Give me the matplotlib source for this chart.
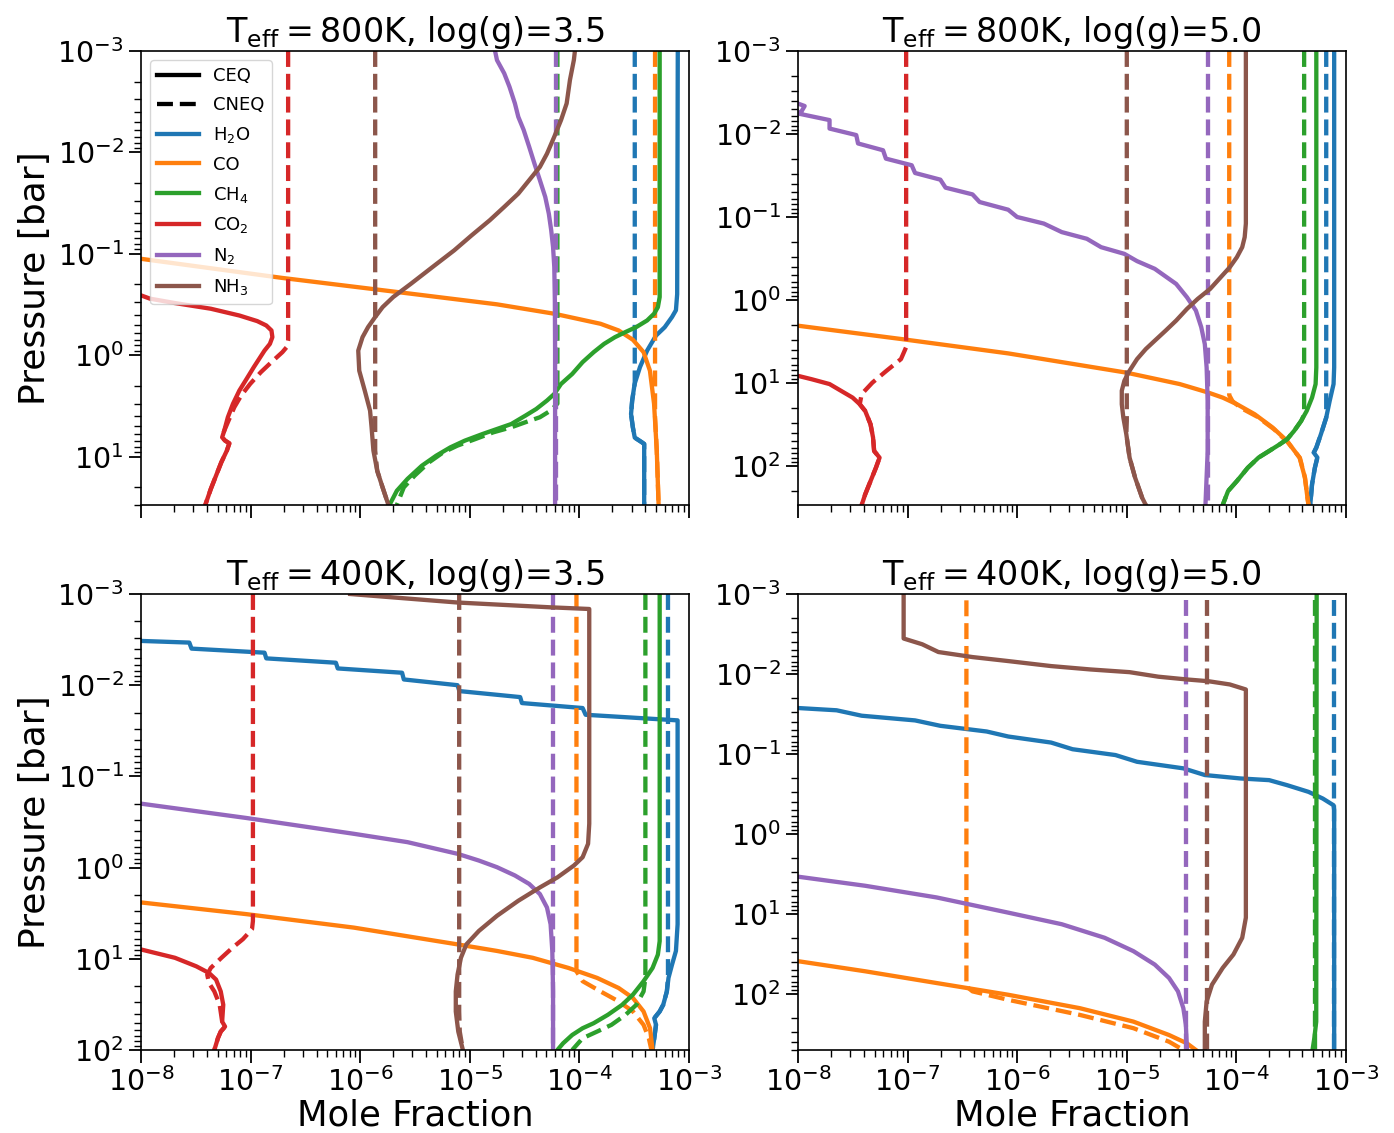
import matplotlib
matplotlib.use("Agg")
import matplotlib.pyplot as plt
from matplotlib.lines import Line2D

SPECIES = ["H2O", "CO", "CH4", "CO2", "N2", "NH3"]
LABELS = [r"H$_2$O", "CO", r"CH$_4$", r"CO$_2$", r"N$_2$", r"NH$_3$"]
COLORS = ["#1f77b4", "#ff7f0e", "#2ca02c", "#d62728", "#9467bd", "#8c564b"]

TITLES = [
    r"$\mathrm{T_{eff} = 800K}$, log(g)=3.5",
    r"$\mathrm{T_{eff} = 800K}$, log(g)=5.0",
    r"$\mathrm{T_{eff} = 400K}$, log(g)=3.5",
    r"$\mathrm{T_{eff} = 400K}$, log(g)=5.0",
]
P_BOTTOM = [30, 295, 100, 500]

# curves are (pressure [bar], mole fraction) pairs

# Teff 800K, log(g) 3.5
A_H2O_CEQ = [(1e-3, 7.9e-4), (0.25, 7.8e-4), (0.36, 7.6e-4), (0.42, 7.0e-4), (0.53, 6.0e-4), (0.64, 5.0e-4),
             (0.9, 4.15e-4), (1.31, 3.57e-4), (1.92, 3.19e-4), (2.8, 3.03e-4), (3.8, 2.96e-4), (5.1, 3.07e-4),
             (6.5, 3.2e-4), (7.2, 3.7e-4), (7.5, 3.9e-4), (30, 3.9e-4)]
A_H2O_CNEQ = [(1e-3, 3.2e-4), (1.9, 3.2e-4), (2.8, 3.03e-4), (3.8, 2.96e-4), (5.1, 3.07e-4), (6.5, 3.2e-4),
              (7.2, 3.7e-4), (7.5, 3.9e-4), (30, 3.9e-4)]
A_CO_CEQ = [(0.112, 1.0e-8), (0.173, 1.95e-7), (0.233, 1.85e-6), (0.315, 1.77e-5), (0.39, 5.9e-5), (0.49, 1.56e-4),
            (0.57, 2.28e-4), (0.705, 3.08e-4), (0.933, 3.85e-4), (1.42, 4.4e-4), (3.02, 4.8e-4), (8.7, 5.08e-4),
            (30, 5.28e-4)]
A_CO_CNEQ = [(1e-3, 4.9e-4), (4.0, 4.9e-4), (8.7, 5.08e-4), (30, 5.28e-4)]
A_CH4_CEQ = [(1e-3, 5.4e-4), (0.267, 5.4e-4), (0.336, 5.2e-4), (0.39, 4.8e-4), (0.454, 4.15e-4), (0.528, 3.3e-4),
             (0.59, 2.64e-4), (0.664, 2.11e-4), (0.773, 1.68e-4), (0.933, 1.35e-4), (1.17, 1.07e-4), (1.53, 8.6e-5),
             (1.92, 6.8e-5), (2.41, 5.9e-5), (2.8, 5.06e-5), (3.39, 4.04e-5), (3.94, 3.22e-5), (4.77, 2.39e-5),
             (5.34, 1.77e-5), (5.98, 1.31e-5), (6.96, 9.0e-6), (8.1, 6.65e-6), (9.8, 4.93e-6), (12.3, 3.65e-6),
             (16.6, 2.7e-6), (21.7, 2.16e-6), (30, 1.85e-6)]
A_CH4_CNEQ = [(1e-3, 6.3e-5), (3.0, 6.3e-5), (3.52, 5.46e-5), (4.09, 4.36e-5), (4.58, 3.22e-5), (5.14, 2.39e-5),
              (5.76, 1.64e-5), (6.7, 1.13e-5), (7.8, 7.7e-6), (9.1, 5.7e-6), (11.4, 4.24e-6), (15.4, 3.14e-6),
              (20.1, 2.5e-6), (30, 2.16e-6)]
A_CO2_CEQ = [(0.257, 1.0e-8), (0.277, 1.21e-8), (0.306, 2.04e-8), (0.348, 4.33e-8), (0.406, 7.9e-8),
             (0.461, 1.15e-7), (0.509, 1.39e-7), (0.57, 1.55e-7), (0.664, 1.58e-7), (0.773, 1.5e-7), (0.9, 1.34e-7),
             (1.31, 1.07e-7), (1.71, 9.2e-8), (2.23, 7.9e-8), (3.02, 6.9e-8), (4.09, 6.2e-8), (5.55, 5.75e-8),
             (6.46, 5.5e-8), (6.95, 5.85e-8), (7.4, 6.4e-8), (8.73, 6.07e-8), (11.4, 5.4e-8), (15.4, 4.84e-8),
             (20.9, 4.33e-8), (30, 3.86e-8)]
A_CO2_CNEQ = [(1e-3, 2.2e-7), (0.716, 2.2e-7), (0.834, 2.13e-7), (0.933, 1.95e-7), (1.17, 1.55e-7), (1.47, 1.24e-7),
              (1.92, 9.9e-8), (2.5, 8.2e-8), (3.26, 7.1e-8), (4.4, 6.3e-8), (5.55, 5.75e-8), (6.46, 5.5e-8),
              (6.95, 5.85e-8), (7.4, 6.4e-8), (8.73, 6.07e-8), (11.4, 5.4e-8), (15.4, 4.84e-8), (20.9, 4.33e-8),
              (30, 3.86e-8)]
A_N2_CEQ = [(1e-3, 1.7e-5), (1.23e-3, 1.77e-5), (1.66e-3, 2.06e-5), (2.25e-3, 2.3e-5), (3.29e-3, 2.58e-5),
            (4.46e-3, 2.77e-5), (6.0e-3, 3.1e-5), (8.8e-3, 3.48e-5), (0.0129, 3.89e-5), (0.0188, 4.36e-5),
            (0.0275, 4.88e-5), (0.0402, 5.26e-5), (0.0586, 5.53e-5), (0.0857, 5.75e-5), (0.135, 5.9e-5),
            (0.288, 5.97e-5), (0.9, 6.0e-5), (30, 6.0e-5)]
A_N2_CNEQ = [(1e-3, 6.1e-5), (30, 6.1e-5)]
A_NH3_CEQ = [(1e-3, 9.1e-5), (1.23e-3, 8.9e-5), (1.93e-3, 8.2e-5), (3.29e-3, 7.65e-5), (4.8e-3, 6.8e-5),
             (7.0e-3, 5.9e-5), (0.0103, 5.06e-5), (0.0139, 4.36e-5), (0.0188, 3.48e-5), (0.0255, 2.77e-5),
             (0.0345, 2.06e-5), (0.0467, 1.52e-5), (0.0657, 1.04e-5), (0.0925, 7.2e-6), (0.135, 4.57e-6),
             (0.197, 2.91e-6), (0.267, 2.0e-6), (0.336, 1.6e-6), (0.42, 1.37e-6), (0.528, 1.18e-6), (0.664, 1.05e-6),
             (0.9, 9.6e-7), (1.42, 9.8e-7), (2.23, 1.1e-6), (3.52, 1.23e-6), (5.14, 1.27e-6), (8.73, 1.32e-6),
             (13.8, 1.43e-6), (20.1, 1.6e-6), (30, 1.81e-6)]
A_NH3_CNEQ = [(1e-3, 1.37e-6), (8.73, 1.37e-6), (13.8, 1.43e-6), (20.1, 1.6e-6), (30, 1.81e-6)]

# Teff 800K, log(g) 5.0
B_H2O_CEQ = [(1e-3, 7.8e-4), (6.5, 7.8e-4), (10.3, 7.7e-4), (16.4, 7.1e-4), (26.1, 6.6e-4), (41.5, 5.9e-4),
             (60, 5.36e-4), (69, 5.08e-4), (79, 5.48e-4), (105, 5.2e-4), (166, 4.9e-4), (295, 4.72e-4)]
B_H2O_CNEQ = [(1e-3, 6.6e-4), (26.1, 6.6e-4), (41.5, 5.9e-4), (60, 5.36e-4), (69, 5.08e-4), (79, 5.48e-4),
              (105, 5.2e-4), (166, 4.9e-4), (295, 4.72e-4)]
B_CO_CEQ = [(2.04, 1.0e-8), (2.95, 8.7e-8), (4.4, 8.3e-7), (7.5, 9.9e-6), (10.3, 3.04e-5), (13, 5.5e-5),
            (15, 7.5e-5), (18, 1.01e-4), (23.8, 1.47e-4), (34.4, 2.14e-4), (49.9, 2.9e-4), (79.3, 3.77e-4),
            (138, 4.22e-4), (241, 4.45e-4), (295, 4.55e-4)]
B_CO_CNEQ = [(1e-3, 8.6e-5), (14, 8.6e-5), (16.5, 9.2e-5), (20, 1.1e-4), (25.5, 1.55e-4), (36, 2.2e-4),
             (52, 2.95e-4), (80, 3.8e-4), (138, 4.22e-4), (241, 4.45e-4), (295, 4.55e-4)]
B_CH4_CEQ = [(1e-3, 5.36e-4), (6.5, 5.36e-4), (10.3, 5.28e-4), (15, 4.9e-4), (21.7, 4.38e-4), (28.6, 3.9e-4),
             (37.8, 3.36e-4), (47.6, 2.9e-4), (54.7, 2.49e-4), (65.9, 1.99e-4), (79.3, 1.59e-4), (105, 1.27e-4),
             (152, 1.01e-4), (200, 8.4e-5), (295, 7.5e-5)]
B_CH4_CNEQ = [(1e-3, 4.15e-4), (24, 4.15e-4), (28.6, 3.9e-4), (37.8, 3.36e-4), (47.6, 2.9e-4), (54.7, 2.49e-4),
              (65.9, 1.99e-4), (79.3, 1.59e-4), (105, 1.27e-4), (152, 1.01e-4), (200, 8.4e-5), (295, 7.5e-5)]
B_CO2_CEQ = [(8.2, 1.0e-8), (9.0, 1.33e-8), (10.3, 1.94e-8), (15, 3.15e-8), (18, 3.66e-8), (21.7, 4.1e-8),
             (31.4, 4.59e-8), (45.5, 4.84e-8), (65.9, 4.95e-8), (79.3, 5.55e-8), (105, 5.14e-8), (152, 4.59e-8),
             (220, 4.1e-8), (295, 3.81e-8)]
B_CO2_CNEQ = [(1e-3, 9.7e-8), (3.7, 9.7e-8), (5.15, 8.7e-8), (7.1, 6.44e-8), (9.9, 4.77e-8), (13.6, 3.81e-8),
              (18, 3.66e-8), (21.7, 4.1e-8), (31.4, 4.59e-8), (45.5, 4.84e-8), (65.9, 4.95e-8), (79.3, 5.55e-8),
              (105, 5.14e-8), (152, 4.59e-8), (220, 4.1e-8), (295, 3.81e-8)]
B_N2_CEQ = [(4.3e-3, 1.0e-8), (4.6e-3, 1.15e-8), (5.3e-3, 1.08e-8), (5.66e-3, 1.0e-8), (6.8e-3, 1.94e-8),
            (8.6e-3, 1.94e-8), (0.0103, 3.4e-8), (0.013, 3.53e-8), (0.0157, 5.97e-8), (0.0198, 6.34e-8),
            (0.0238, 1.09e-7), (0.0295, 1.17e-7), (0.0355, 1.99e-7), (0.0443, 2.22e-7), (0.0534, 3.91e-7),
            (0.066, 4.54e-7), (0.0817, 8.28e-7), (0.1, 9.98e-7), (0.12, 1.75e-6), (0.152, 2.55e-6),
            (0.183, 4.32e-6), (0.231, 5.83e-6), (0.278, 9.5e-6), (0.34, 1.24e-5), (0.421, 1.8e-5), (0.64, 2.82e-5),
            (0.927, 3.54e-5), (1.34, 4.27e-5), (2.13, 4.78e-5), (3.4, 5.15e-5), (6.5, 5.35e-5), (16.4, 5.47e-5),
            (65.9, 5.47e-5), (295, 5.22e-5)]
B_N2_CNEQ = [(1e-3, 5.55e-5), (295, 5.55e-5)]
B_NH3_CEQ = [(1e-3, 1.22e-4), (0.12, 1.22e-4), (0.175, 1.19e-4), (0.231, 1.13e-4), (0.305, 1.01e-4),
             (0.403, 8.7e-5), (0.531, 7.2e-5), (0.735, 5.76e-5), (0.971, 4.43e-5), (1.28, 3.54e-5), (1.77, 2.82e-5),
             (2.34, 2.26e-5), (3.09, 1.8e-5), (3.9, 1.49e-5), (5.15, 1.24e-5), (7.1, 1.06e-5), (9.4, 9.5e-6),
             (12.4, 9.0e-6), (18, 9.0e-6), (26.1, 9.3e-6), (41.5, 9.9e-6), (79.3, 1.06e-5), (138, 1.19e-5),
             (241, 1.38e-5), (295, 1.49e-5)]
B_NH3_CNEQ = [(1e-3, 1.0e-5), (28.6, 1.0e-5), (41.5, 9.9e-6), (79.3, 1.06e-5), (138, 1.19e-5), (241, 1.38e-5),
              (295, 1.49e-5)]

# Teff 400K, log(g) 3.5
C_H2O_CEQ = [(3.27e-3, 1.0e-8), (3.41e-3, 2.76e-8), (3.97e-3, 2.89e-8), (4.4e-3, 1.34e-7), (5.08e-3, 1.39e-7),
             (5.67e-3, 6.0e-7), (6.55e-3, 6.24e-7), (7.3e-3, 2.41e-6), (8.65e-3, 2.5e-6), (0.01, 7.73e-6),
             (0.0116, 8.03e-6), (0.0135, 2.88e-5), (0.0157, 2.99e-5), (0.0178, 1.07e-4), (0.0211, 1.14e-4),
             (0.0243, 7.87e-4), (4.18, 7.87e-4), (8.2, 7.6e-4), (11.6, 7.0e-4), (16.2, 6.5e-4), (22.8, 6.28e-4),
             (31.9, 5.82e-4), (37.8, 5.4e-4), (44.8, 4.82e-4), (53, 5.0e-4), (74.3, 4.82e-4), (100, 4.65e-4)]
C_H2O_CNEQ = [(1e-3, 6.43e-4), (16.2, 6.43e-4), (22.8, 6.28e-4), (31.9, 5.82e-4), (37.8, 5.4e-4), (44.8, 4.82e-4),
              (53, 5.0e-4), (74.3, 4.82e-4), (100, 4.65e-4)]
C_CO_CEQ = [(2.41, 1.0e-8), (3.24, 9.2e-8), (4.55, 8.75e-7), (6.95, 7.73e-6), (8.2, 1.77e-5), (9.75, 3.75e-5),
            (12.6, 7.95e-5), (16.2, 1.45e-4), (20.9, 2.28e-4), (26.9, 3.08e-4), (37.8, 3.85e-4), (57.7, 4.41e-4),
            (100, 4.65e-4)]
C_CO_CNEQ = [(1e-3, 9.4e-5), (13.7, 9.4e-5), (17.6, 1.07e-4), (22.8, 1.56e-4), (29.3, 2.28e-4), (37.8, 3.08e-4),
             (53, 3.85e-4), (74.3, 4.3e-4), (100, 4.54e-4)]
C_CH4_CEQ = [(1e-3, 5.4e-4), (6.4, 5.4e-4), (9.0, 5.2e-4), (12.6, 4.65e-4), (17.6, 3.85e-4), (24.7, 3.08e-4),
             (31.9, 2.46e-4), (41.1, 1.82e-4), (50.8, 1.35e-4), (57.7, 1.07e-4), (68.4, 8.6e-5), (84.4, 7.1e-5),
             (100, 6.3e-5)]
C_CH4_CNEQ = [(1e-3, 4.0e-4), (16.2, 4.0e-4), (22.8, 3.85e-4), (31.9, 3.31e-4), (41.1, 2.64e-4), (53, 1.96e-4),
              (62.8, 1.45e-4), (74.3, 1.07e-4), (100, 8.6e-5)]
C_CO2_CEQ = [(7.9, 1.0e-8), (9.75, 2.04e-8), (12.1, 3.2e-8), (14.3, 4.17e-8), (16.9, 4.84e-8), (22.8, 5.34e-8),
             (31.9, 5.63e-8), (48.8, 5.5e-8), (55.4, 5.85e-8), (62.8, 5.34e-8), (74.3, 5.03e-8), (100, 4.67e-8)]
C_CO2_CNEQ = [(1e-3, 1.05e-7), (3.85, 1.05e-7), (4.74, 1.03e-7), (6.1, 8.5e-8), (7.6, 6.8e-8), (9.75, 5.42e-8),
              (12.6, 4.33e-8), (14.9, 4.02e-8), (18.4, 4.17e-8), (22.8, 4.67e-8), (31.9, 5.22e-8), (48.8, 5.5e-8),
              (55.4, 5.85e-8), (62.8, 5.34e-8), (74.3, 5.03e-8), (100, 4.67e-8)]
C_N2_CEQ = [(0.199, 1.0e-8), (0.286, 9.2e-8), (0.426, 8.75e-7), (0.526, 2.7e-6), (0.706, 7.73e-6), (0.837, 1.21e-5),
            (0.99, 1.77e-5), (1.22, 2.58e-5), (1.51, 3.48e-5), (1.95, 4.36e-5), (2.74, 5.06e-5), (4.18, 5.46e-5),
            (8.2, 5.66e-5), (22.8, 5.75e-5), (100, 5.75e-5)]
C_N2_CNEQ = [(1e-3, 5.75e-5), (100, 5.75e-5)]
C_NH3_CEQ = [(1e-3, 8.1e-7), (1.24e-3, 7.73e-6), (1.4e-3, 5.46e-5), (1.46e-3, 1.23e-4), (0.33, 1.23e-4),
             (0.548, 1.2e-4), (0.769, 1.07e-4), (0.95, 8.9e-5), (1.28, 6.3e-5), (1.65, 4.36e-5), (2.31, 2.77e-5),
             (3.38, 1.77e-5), (4.95, 1.21e-5), (6.95, 9.3e-6), (9.75, 8.3e-6), (14.9, 7.73e-6), (22.8, 7.45e-6),
             (37.8, 7.45e-6), (62.8, 7.85e-6), (100, 8.65e-6)]
C_NH3_CNEQ = [(1e-3, 8.0e-6), (37.8, 8.0e-6), (62.8, 8.1e-6), (100, 8.65e-6)]

# Teff 400K, log(g) 5.0 (no CO2 above 1e-8)
D_H2O_CEQ = [(0.0266, 1.0e-8), (0.0284, 2.25e-8), (0.0332, 3.81e-8), (0.038, 1.17e-7), (0.0444, 1.99e-7),
             (0.0523, 5.27e-7), (0.0604, 8.28e-7), (0.0719, 2.04e-6), (0.0871, 3.2e-6), (0.103, 7.88e-6),
             (0.125, 1.24e-5), (0.151, 3.28e-5), (0.183, 5.15e-5), (0.202, 1.09e-4), (0.212, 1.99e-4),
             (0.245, 2.9e-4), (0.297, 4.55e-4), (0.36, 6.14e-4), (0.437, 7.7e-4), (0.5, 7.8e-4), (500, 7.8e-4)]
D_H2O_CNEQ = [(1.2e-3, 7.8e-4), (500, 7.8e-4)]
D_CO_CEQ = [(38.8, 1.0e-8), (51.9, 4.1e-8), (72.8, 1.84e-7), (102, 8.28e-7), (150, 3.72e-6), (221, 1.15e-5),
            (325, 2.43e-5), (413, 3.54e-5), (500, 4.27e-5)]
D_CO_CNEQ = [(1.2e-3, 3.44e-7), (80, 3.44e-7), (92.5, 3.91e-7), (118, 8.28e-7), (182, 3.72e-6), (267, 1.15e-5),
             (394, 2.43e-5), (500, 3.28e-5)]
D_CH4_CEQ = [(1e-3, 5.4e-4), (221, 5.35e-4), (350, 5.15e-4), (500, 4.95e-4)]
D_CH4_CNEQ = [(1.2e-3, 5.25e-4), (500, 5.25e-4)]
D_N2_CEQ = [(3.41, 1.0e-8), (4.43, 4.1e-8), (6.2, 1.84e-7), (9.6, 8.28e-7), (13.4, 2.55e-6), (19.8, 6.28e-6),
            (29.1, 1.15e-5), (42.8, 1.8e-5), (63, 2.43e-5), (92.5, 2.93e-5), (150, 3.28e-5), (243, 3.46e-5),
            (500, 3.54e-5)]
D_N2_CNEQ = [(1.2e-3, 3.46e-5), (500, 3.46e-5)]
D_NH3_CEQ = [(1e-3, 9.2e-8), (3.6e-3, 9.2e-8), (4.25e-3, 1.36e-7), (5.31e-3, 1.91e-7), (6.14e-3, 3.91e-7),
             (6.89e-3, 8.28e-7), (7.96e-3, 2.04e-6), (8.77e-3, 4.66e-6), (9.48e-3, 1.06e-5), (0.0108, 1.94e-5),
             (0.0117, 3.54e-5), (0.0123, 5.55e-5), (0.0135, 8.7e-5), (0.0156, 1.22e-4), (11.1, 1.22e-4),
             (19.8, 1.13e-4), (32, 9.4e-5), (47.1, 7.5e-5), (76.3, 5.99e-5), (124, 5.35e-5), (221, 5.15e-5),
             (500, 5.15e-5)]
D_NH3_CNEQ = [(1.2e-3, 5.35e-5), (500, 5.35e-5)]

PANEL_CURVES = [
    {"H2O": (A_H2O_CEQ, A_H2O_CNEQ), "CO": (A_CO_CEQ, A_CO_CNEQ), "CH4": (A_CH4_CEQ, A_CH4_CNEQ),
     "CO2": (A_CO2_CEQ, A_CO2_CNEQ), "N2": (A_N2_CEQ, A_N2_CNEQ), "NH3": (A_NH3_CEQ, A_NH3_CNEQ)},
    {"H2O": (B_H2O_CEQ, B_H2O_CNEQ), "CO": (B_CO_CEQ, B_CO_CNEQ), "CH4": (B_CH4_CEQ, B_CH4_CNEQ),
     "CO2": (B_CO2_CEQ, B_CO2_CNEQ), "N2": (B_N2_CEQ, B_N2_CNEQ), "NH3": (B_NH3_CEQ, B_NH3_CNEQ)},
    {"H2O": (C_H2O_CEQ, C_H2O_CNEQ), "CO": (C_CO_CEQ, C_CO_CNEQ), "CH4": (C_CH4_CEQ, C_CH4_CNEQ),
     "CO2": (C_CO2_CEQ, C_CO2_CNEQ), "N2": (C_N2_CEQ, C_N2_CNEQ), "NH3": (C_NH3_CEQ, C_NH3_CNEQ)},
    {"H2O": (D_H2O_CEQ, D_H2O_CNEQ), "CO": (D_CO_CEQ, D_CO_CNEQ), "CH4": (D_CH4_CEQ, D_CH4_CNEQ),
     "N2": (D_N2_CEQ, D_N2_CNEQ), "NH3": (D_NH3_CEQ, D_NH3_CNEQ)},
]

W, H = 1394, 1133
# axes boxes in pixels: left, top, right, bottom
BOXES = [(141, 51, 689, 505), (798, 51, 1346, 505), (141, 594, 689, 1050), (798, 594, 1346, 1050)]
LW = 3.1


def main() -> None:
    fig = plt.figure(figsize=(W / 100, H / 100), dpi=100)

    for i, (box, curves) in enumerate(zip(BOXES, PANEL_CURVES)):
        left, top, right, bottom = box
        ax = fig.add_axes([left / W, 1 - bottom / H, (right - left) / W, (bottom - top) / H])

        for name, color in zip(SPECIES, COLORS):
            if name not in curves:
                continue
            ceq, cneq = curves[name]
            p, x = zip(*ceq)
            ax.plot(x, p, color=color, lw=LW)
            p, x = zip(*cneq)
            ax.plot(x, p, color=color, lw=LW, ls="--")

        ax.set_xscale("log")
        ax.set_yscale("log")
        ax.set_xlim(1e-8, 1e-3)
        ax.set_ylim(P_BOTTOM[i], 1e-3)
        ax.set_title(TITLES[i], fontsize=24, pad=5)
        ax.tick_params(which="major", labelsize=20.5, length=9, width=1.3)
        ax.tick_params(which="minor", length=5, width=1.0)
        for spine in ax.spines.values():
            spine.set_linewidth(1.2)

        if i < 2:
            ax.tick_params(axis="x", which="both", labelbottom=False)
        else:
            ax.set_xlabel("Mole Fraction", fontsize=25.5, labelpad=1)
        if i % 2 == 0:
            ax.set_ylabel("Pressure [bar]", fontsize=26)

        if i == 0:
            handles = [Line2D([], [], color="k", lw=LW), Line2D([], [], color="k", lw=LW, ls="--")]
            handles += [Line2D([], [], color=c, lw=LW) for c in COLORS]
            ax.legend(handles, ["CEQ", "CNEQ"] + LABELS, loc="upper left", fontsize=13,
                      handlelength=2.3, labelspacing=0.6)

    fig.savefig("out.png", dpi=100)


if __name__ == "__main__":
    main()
